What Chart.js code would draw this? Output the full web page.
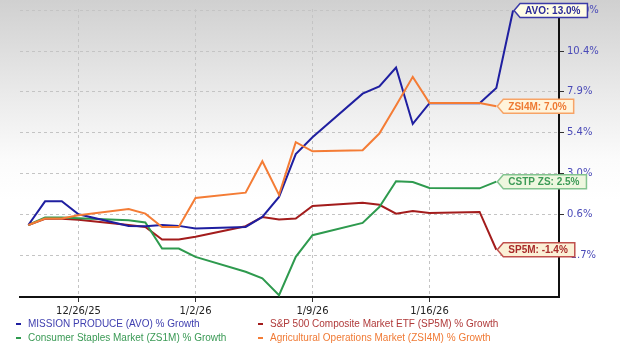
<!DOCTYPE html>
<html>
<head>
<meta charset="utf-8">
<script src="https://cdn.jsdelivr.net/npm/chart.js@4.4.1/dist/chart.umd.min.js"></script>
<style>
html, body { margin: 0; padding: 0; }
body {
    width: 620px; height: 351px; overflow: hidden; position: relative;
    background: linear-gradient(to bottom, #d0d0d0 0px, #e9e9e9 90px, #fbfbfb 160px, #ffffff 200px);
    font-family: "Liberation Sans", Arial, sans-serif;
}
#wrap { position: absolute; left: 0; top: 0; width: 620px; height: 351px; }
.item { position: absolute; white-space: nowrap; font-size: 10px; line-height: 12px; }
.item i { position: absolute; left: -12px; top: 5px; width: 5px; height: 2px; }
</style>
</head>
<body>
<div id="wrap"><canvas id="myChart" width="620" height="351"></canvas></div>
<div id="legend"></div>
<script>
// trading-day dates (weekdays), values are % growth since 12/23/25
const dates = ['12/23/25', '12/24/25', '12/25/25', '12/26/25', '12/29/25', '12/30/25', '12/31/25',
    '1/1/26', '1/2/26', '1/5/26', '1/6/26', '1/7/26', '1/8/26', '1/9/26', '1/12/26', '1/13/26',
    '1/14/26', '1/15/26', '1/16/26', '1/19/26', '1/20/26', '1/21/26'];

const avo = [0, 1.36, 1.36, 0.61, -0.05, -0.07, 0.0, -0.05, -0.2, -0.11, 0.46, 1.61, 4.12, 5.13,
    7.77, 8.22, 9.39, 5.93, 7.19, 7.19, 8.12, 13.0];
const sp5m = [0, 0.35, 0.35, 0.30, 0.0, -0.11, -0.82, -0.82, -0.67, -0.07, 0.46, 0.31, 0.37, 1.09,
    1.28, 1.16, 0.65, 0.80, 0.69, 0.75, -1.4];
const zs1m = [0, 0.43, 0.43, 0.38, 0.27, 0.14, -1.33, -1.33, -1.80, -2.63, -2.99, -3.92, -1.80, -0.58,
    0.12, 1.03, 2.53, 2.48, 2.13, 2.11, 2.5];
const zsi4m = [0, 0.37, 0.37, 0.56, 0.92, 0.65, -0.11, -0.11, 1.55, 1.86, 3.70, 1.73, 4.83, 4.29,
    4.35, 5.35, 7.05, 8.81, 7.20, 7.20, 7.0];

const xTickLabels = ['12/26/25', '1/2/26', '1/9/26', '1/16/26'];
const yTickLabels = [-1.7, 0.6, 3.0, 5.4, 7.9, 10.4, 13.0];

const names = ['MISSION PRODUCE (AVO) % Growth', 'S&P 500 Composite Market ETF (SP5M) % Growth',
    'Consumer Staples Market (ZS1M) % Growth', 'Agricultural Operations Market (ZSI4M) % Growth'];
const tags = ['AVO', 'SP5M', 'CSTP ZS', 'ZSI4M'];

function dayIndex(s) {
    const [m, d, y] = s.split('/').map(Number);
    const [m0, d0, y0] = dates[0].split('/').map(Number);
    return Math.round((Date.UTC(2000 + y, m - 1, d) - Date.UTC(2000 + y0, m0 - 1, d0)) / 864e5);
}

// log axis on (100 + growth)
function pts(arr) {
    return arr.map((v, i) => ({ x: dayIndex(dates[i]), y: 100 + v }));
}

const lineColors = ['#1f1fa0', '#a31c1c', '#2e9a4e', '#f47c35'];
const textColors = ['#4040b0', '#b03a3a', '#3a9a55', '#f07a35'];
const boxStyles = [
    { fill: '#fffde6', stroke: '#3a3aa8', text: '#2b2b99' },
    { fill: '#fbf0d6', stroke: '#c0504d', text: '#a82a2a' },
    { fill: '#eef7df', stroke: '#82c48f', text: '#3d9b57' },
    { fill: '#fff4dc', stroke: '#f7a366', text: '#ee7a33' }
];
const series = [avo, sp5m, zs1m, zsi4m];
const drawOrder = [1, 3, 2, 0];

const callouts = {
    id: 'callouts',
    afterDraw(chart) {
        const ctx = chart.ctx;
        ctx.save();
        ctx.font = 'bold 10px "Liberation Sans", Arial, sans-serif';
        ctx.textBaseline = 'middle';
        chart.data.datasets.forEach((ds, i) => {
            const meta = chart.getDatasetMeta(i);
            const p = meta.data[meta.data.length - 1];
            const v = series[i][series[i].length - 1];
            const text = tags[i] + ': ' + v.toFixed(1) + '%';
            const tw = ctx.measureText(text).width;
            const tip = p.x + 1, y = p.y, h = 7, x0 = tip + 6, w = tw + 12;
            ctx.beginPath();
            ctx.moveTo(tip, y);
            ctx.lineTo(x0, y - h);
            ctx.lineTo(x0 + w, y - h);
            ctx.lineTo(x0 + w, y + h);
            ctx.lineTo(x0, y + h);
            ctx.closePath();
            ctx.fillStyle = boxStyles[i].fill;
            ctx.fill();
            ctx.lineWidth = 1.5;
            ctx.strokeStyle = boxStyles[i].stroke;
            ctx.stroke();
            ctx.fillStyle = boxStyles[i].text;
            ctx.fillText(text, x0 + 5, y + 0.5);
        });
        ctx.restore();
    }
};

const ctx = document.getElementById('myChart').getContext('2d');
const myChart = new Chart(ctx, {
    type: 'line',
    data: {
        datasets: series.map((s, i) => ({
            label: names[i],
            data: pts(s),
            borderColor: lineColors[i],
            borderWidth: 2,
            pointRadius: 0,
            tension: 0,
            fill: false,
            order: drawOrder[i]
        }))
    },
    options: {
        responsive: false,
        animation: false,
        devicePixelRatio: 1,
        layout: { padding: { left: 20, top: 8, right: 0, bottom: 0 } },
        scales: {
            x: {
                type: 'linear',
                min: -0.5,
                max: 31.75,
                afterBuildTicks: (s) => { s.ticks = xTickLabels.map(t => ({ value: dayIndex(t) })); },
                afterFit: (s) => { s.height = 54; },
                ticks: {
                    callback: (v) => xTickLabels.find(t => dayIndex(t) === v) || '',
                    color: '#222',
                    font: { family: 'DejaVu Sans', size: 10 },
                    padding: 3,
                    maxRotation: 0
                },
                grid: { color: '#c4c4c4', tickColor: '#333', tickLength: 5 },
                border: { display: true, color: '#111', width: 2, dash: [3, 3] }
            },
            y: {
                type: 'logarithmic',
                position: 'right',
                min: 95.98,
                max: 113.1,
                bounds: 'data',
                afterBuildTicks: (s) => { s.ticks = yTickLabels.map(t => ({ value: 100 + t })); },
                afterFit: (s) => { s.width = 61; },
                ticks: {
                    callback: (v) => (v - 100).toFixed(1) + '%',
                    color: '#4a4ab8',
                    font: { family: 'DejaVu Sans', size: 10 },
                    padding: 3
                },
                grid: { color: '#c4c4c4', tickColor: '#333', tickLength: 5 },
                border: { display: true, color: '#111', width: 2, dash: [3, 3] }
            }
        },
        plugins: {
            legend: { display: false },
            tooltip: { enabled: false }
        }
    },
    plugins: [callouts]
});

// legend below the plot: two columns, two rows
const legendPos = [[28, 318], [270, 318], [28, 332], [270, 332]];
const legendEl = document.getElementById('legend');
names.forEach((n, i) => {
    const d = document.createElement('div');
    d.className = 'item';
    d.style.left = legendPos[i][0] + 'px';
    d.style.top = legendPos[i][1] + 'px';
    d.style.color = textColors[i];
    const mark = document.createElement('i');
    mark.style.background = lineColors[i];
    d.appendChild(mark);
    d.appendChild(document.createTextNode(n));
    legendEl.appendChild(d);
});
</script>
</body>
</html>
